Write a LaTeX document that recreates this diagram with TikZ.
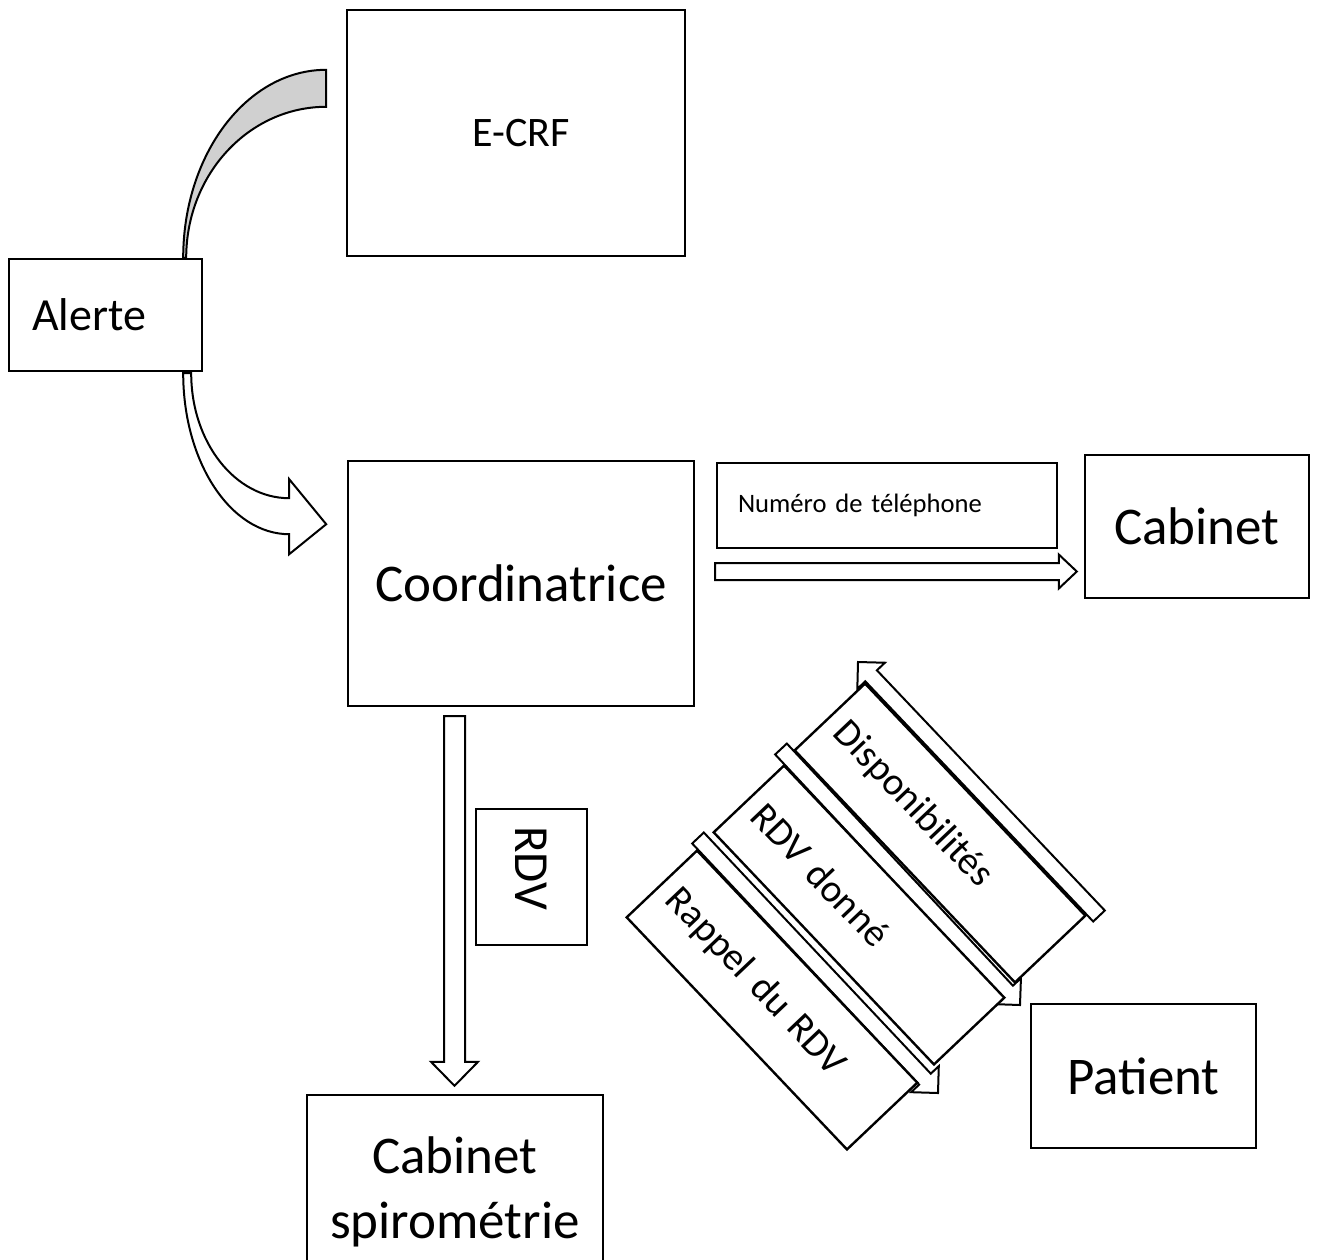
\documentclass[tikz,border=0pt]{standalone}
\usepackage{fontspec}
\setmainfont{Carlito}
\usetikzlibrary{positioning,calc}
\pgfdeclarelayer{background}
\pgfsetlayers{background,main}
\definecolor{bandgray}{RGB}{208,208,208}

% block arrow: tail, tip, half shaft, half head, head length
\newcommand{\blockarrow}[5]{%
  \draw[arrowline] let \p1=($(#2)-(#1)$), \n1={atan2(\y1,\x1)}, \n2={veclen(\x1,\y1)-#5} in
    ($(#1)+(\n1+90:#3)$) -- ($(#1)+(\n1:\n2)+(\n1+90:#3)$)
    -- ($(#1)+(\n1:\n2)+(\n1+90:#4)$) -- (#2)
    -- ($(#1)+(\n1:\n2)+(\n1-90:#4)$) -- ($(#1)+(\n1:\n2)+(\n1-90:#3)$)
    -- ($(#1)+(\n1-90:#3)$) -- cycle;}

\begin{document}
\begin{tikzpicture}
  [x=1pt, y=1pt,
   box/.style={rectangle, draw, line width=2.4pt, fill=white, inner sep=0pt, align=center, font=\fontsize{53}{65}\selectfont},
   diagbox/.style={box, rotate=-46.5, minimum width=320pt, minimum height=97pt, text width=292pt, inner xsep=14pt, align=left, font=\fontsize{39}{47}\selectfont},
   arrowline/.style={fill=white, line width=2pt, line join=miter},
   band/.style={draw, fill=bandgray, line width=2pt},
  ]
  \useasboundingbox (0,0) rectangle (1317,-1259);

  \node[box, minimum width=338pt, minimum height=246pt, font=\fontsize{42}{50}\selectfont] (ecrf) at (516,-133) {\raisebox{-4pt}{\hspace*{10pt}E-CRF}};
  \node[box, minimum width=193pt, minimum height=112pt, text width=147pt, inner xsep=23pt, align=left, font=\fontsize{46}{55}\selectfont] (alerte) at (105.5,-315) {Alerte};
  \node[box, minimum width=346pt, minimum height=245pt] (coord) at (521,-583.5) {Coordinatrice};
  \node[box, minimum width=340pt, minimum height=85pt, text width=298pt, inner xsep=21pt, align=left, font=\fontsize{26.6}{32}\selectfont] (numero) at (887,-505.5) {Numéro de téléphone};
  \node[box, minimum width=224pt, minimum height=143pt] (cabinet) at (1197,-526.5) {Cabinet};
  \node[box, rotate=-90, minimum width=136pt, minimum height=111pt, text width=102pt, inner xsep=17pt, align=left, font=\fontsize{49}{59}\selectfont] (rdv) at (531.5,-877) {RDV};
  \node[box, minimum width=296pt, minimum height=170pt] (spirobox) at (455,-1180) {};
  \node[font=\fontsize{53}{65}\selectfont, align=center] (spiro) at (455,-1192) {Cabinet\\spirométrie};
  \node[box, minimum width=225pt, minimum height=144pt] (patient) at (1143.5,-1076) {Patient};

  \node[diagbox] (dispo) at (940,-833) {Disponibilités};
  \node[diagbox] (rdvdonne) at (859,-915) {RDV donné};
  \node[diagbox] (rappel) at (772,-1000) {Rappel du RDV};

  % arrows under the boxes
  \begin{pgfonlayer}{background}
    \coordinate (upfoot) at ($(alerte.north east)+(-20,0)$);
    \coordinate (downfoot) at ($(alerte.south east)+(-20,-1)$);
    \draw[band] (upfoot) arc[start angle=180, end angle=90, x radius=143, y radius=188]
      -- ++(0,-37) arc[start angle=90, end angle=180, x radius=140, y radius=151] -- cycle;
    \draw[arrowline] (downfoot) arc[start angle=180, end angle=270, x radius=106, y radius=161]
      -- ++(0,-20) -- ++(37,30) -- ++(-37,45) -- ++(0,-19)
      arc[start angle=270, end angle=180, x radius=98, y radius=125] -- cycle;

    \coordinate (telTail) at ($(coord.east)+(20,12)$);
    \coordinate (telTip) at ($(cabinet.west)+(-7,-45)$);
    \blockarrow{telTail}{telTip}{8.5}{17}{18}

    \coordinate (rdvTail) at ($(coord.south)+(-66.5,-9)$);
    \coordinate (rdvTip) at ($(spirobox.north)+(-0.5,8)$);
    \blockarrow{rdvTail}{rdvTip}{10.5}{23.5}{24}

    \coordinate (dispoTail) at (1099,-916);
    \coordinate (dispoTip) at (858,-662);
    \blockarrow{dispoTail}{dispoTip}{8}{19}{19}
    \coordinate (donneTail) at (781,-749);
    \coordinate (donneTip) at (1020,-1005);
    \blockarrow{donneTail}{donneTip}{8}{19}{19}
    \coordinate (rappelTail) at (698,-838);
    \coordinate (rappelTip) at (938,-1093);
    \blockarrow{rappelTail}{rappelTip}{8}{19}{19}
  \end{pgfonlayer}
\end{tikzpicture}
\end{document}
